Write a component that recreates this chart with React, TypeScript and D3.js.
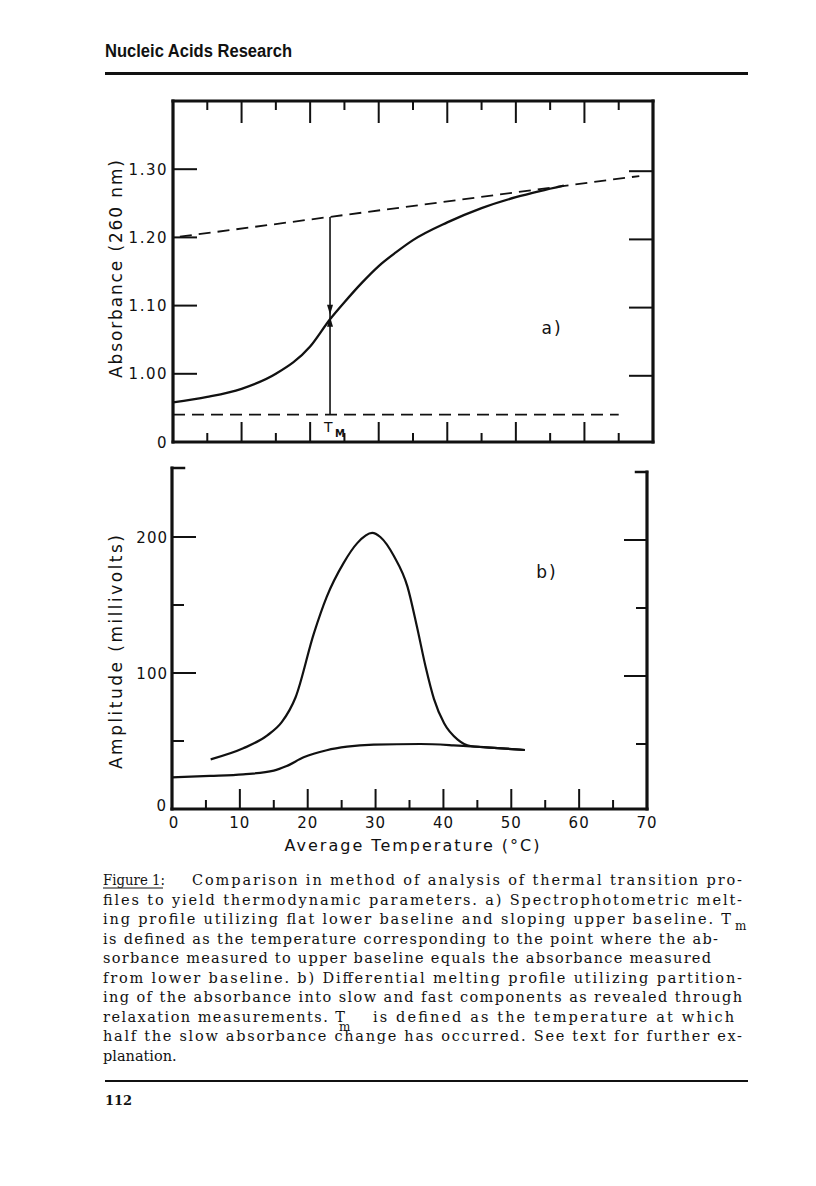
import React from "react";
import * as d3 from "d3";

// ---------- Data ----------
// Panel a: absorbance melting profile
const tempA = [0, 5, 10, 15, 20, 22.9, 25, 27.5, 30, 32.5, 35, 40, 45, 50, 53.5, 57];
const absA = [0.958, 0.966, 0.978, 1.0, 1.04, 1.08, 1.105, 1.133, 1.158, 1.178, 1.196, 1.222, 1.243, 1.259, 1.268, 1.276];
const upperBaseT = [1, 68];
const upperBaseV = [1.201, 1.29];
const lowerBaseT = [0, 65];
const lowerBaseV = [0.94, 0.94];
const tmValue = 22.9;
const absTicks = [1.0, 1.1, 1.2, 1.3];
const absTickLabels = ["1.00", "1.10", "1.20", "1.30"];

// Panel b: differential melting profile
const fastT = [5.7, 10.5, 14, 16.2, 18.2, 20.9, 22.8, 25.3, 27.3, 29.5, 30.7, 32.7, 34.7, 36.1, 37.4, 38.6, 40.1, 42.1, 44, 48, 52];
const fastV = [36.5, 44.6, 54, 64, 82, 129, 156, 181, 195.5, 203, 200, 186, 163.5, 134, 104, 81, 63, 51, 46.3, 44.8, 43.4];
const slowT = [0, 5.6, 10.5, 15, 16.9, 19.4, 22.8, 25.8, 29.7, 36.6, 41.5, 44, 48, 52];
const slowV = [23.3, 24.3, 25.5, 28.2, 31.6, 38, 43.2, 45.8, 47.3, 47.8, 46.8, 46, 44.8, 43.4];
const ampMajor = [100, 200];
const ampMinor = [50, 150];

const xMajor = [10, 20, 30, 40, 50, 60];
const xMinor = [5, 15, 25, 35, 45, 55, 65];
const xLabels = [0, 10, 20, 30, 40, 50, 60, 70];

const captionLines = [
  "Comparison in method of analysis of thermal transition pro-",
  "files to yield thermodynamic parameters.  a)  Spectrophotometric melt-",
  "ing profile utilizing flat lower baseline and sloping upper baseline.  T",
  "is defined as the temperature corresponding to the point where the ab-",
  "sorbance measured to upper baseline equals the absorbance measured",
  "from lower baseline.  b)  Differential melting profile utilizing partition-",
  "ing of the absorbance into slow and fast components as revealed through",
  "relaxation measurements.  T",
  "half the slow absorbance change has occurred.  See text for further ex-",
  "planation.",
];
const captionLine8b = "is defined as the temperature at which";

const SANS = "'DejaVu Sans', sans-serif";
const SERIF = "'DejaVu Serif', serif";

export default function App() {
  const W = 816, H = 1186;
  const xa = d3.scaleLinear().domain([0, 70]).range([173, 653]);
  const ya = d3.scaleLinear().domain([0.9, 1.4]).range([442, 101]);
  const xb = d3.scaleLinear().domain([0, 70]).range([172, 647]);
  const yb = d3.scaleLinear().domain([0, 250]).range([809, 469]);

  const lineA = d3.line<number>().x((_, i) => xa(tempA[i])).y((d) => ya(d)).curve(d3.curveMonotoneX);
  const upperLine = d3.line<number>().x((_, i) => xa(upperBaseT[i])).y((d) => ya(d));
  const lowerLine = d3.line<number>().x((_, i) => xa(lowerBaseT[i])).y((d) => ya(d));
  const fastLine = d3.line<number>().x((_, i) => xb(fastT[i])).y((d) => yb(d)).curve(d3.curveMonotoneX);
  const slowLine = d3.line<number>().x((_, i) => xb(slowT[i])).y((d) => yb(d)).curve(d3.curveMonotoneX);

  const upperAtTm = upperBaseV[0] + (upperBaseV[1] - upperBaseV[0]) * (tmValue - upperBaseT[0]) / (upperBaseT[1] - upperBaseT[0]);
  const lowerAtTm = lowerBaseV[0];
  const midTm = (upperAtTm + lowerAtTm) / 2;
  const tmX = xa(tmValue);
  const tmMidY = ya(midTm);

  const a0 = xa(0), a1 = xa(70), aTop = ya(1.4), aBot = ya(0.9);
  const b0 = xb(0), b1 = xb(70), bTop = 468, bBot = yb(0);

  const capY = (i: number) => 885 + i * 19.5;

  return (
    <svg width={W} height={H} style={{ position: "absolute", left: 0, top: 0, background: "#fff" }}>
      <rect x={0} y={0} width={W} height={H} fill="#fff" />
      {/* Header */}
      <text x={105} y={57} fontFamily="'Liberation Sans', Arial, sans-serif" fontWeight="bold" fontSize={18} textLength={187} lengthAdjust="spacingAndGlyphs" fill="#111">Nucleic Acids Research</text>
      <line x1={105} x2={748} y1={73.5} y2={73.5} stroke="#111" strokeWidth={3} />

      {/* ---------- Panel a ---------- */}
      <g stroke="#111" fill="none" strokeLinecap="square">
        <line x1={a0} x2={a0} y1={aTop} y2={aBot} strokeWidth={3.2} />
        <line x1={a0} x2={a1} y1={aTop} y2={aTop} strokeWidth={3.2} />
        <line x1={a1} x2={a1} y1={aTop} y2={aBot} strokeWidth={3.2} />
        <line x1={a0} x2={a1} y1={aBot} y2={aBot} strokeWidth={3} />
      </g>
      <g stroke="#111" strokeWidth={2}>
        {xMajor.map((t) => (
          <g key={"am" + t}>
            <line x1={xa(t)} x2={xa(t)} y1={aTop} y2={aTop + 22} />
            <line x1={xa(t)} x2={xa(t)} y1={aBot} y2={aBot - 20} />
          </g>
        ))}
        {xMinor.map((t) => (
          <g key={"an" + t}>
            <line x1={xa(t)} x2={xa(t)} y1={aTop} y2={aTop + 9} />
            <line x1={xa(t)} x2={xa(t)} y1={aBot} y2={aBot - 9} />
          </g>
        ))}
        {absTicks.map((v) => (
          <g key={"ay" + v}>
            <line x1={a0} x2={a0 + 24} y1={ya(v)} y2={ya(v)} />
            <line x1={a1} x2={a1 - 24} y1={ya(v) + 2} y2={ya(v) + 2} />
          </g>
        ))}
      </g>
      <g fontFamily={SANS} fontSize={15} fill="#111" textAnchor="end" letterSpacing={1.5}>
        {absTicks.map((v, i) => (
          <text key={"al" + v} x={168} y={ya(v) + 5.5}>{absTickLabels[i]}</text>
        ))}
        <text x={168} y={aBot + 5.5}>0</text>
      </g>
      <text transform={`translate(122,269) rotate(-90)`} textAnchor="middle" fontFamily={SANS} fontSize={17} fill="#111" textLength={218} lengthAdjust="spacing">Absorbance (260 nm)</text>
      {/* baselines */}
      <path d={upperLine(upperBaseV) || ""} fill="none" stroke="#111" strokeWidth={1.8} strokeDasharray="12,7" />
      <path d={lowerLine(lowerBaseV) || ""} fill="none" stroke="#111" strokeWidth={1.8} strokeDasharray="12,7" />
      {/* melting curve */}
      <path d={lineA(absA) || ""} fill="none" stroke="#111" strokeWidth={2.3} />
      {/* Tm arrow */}
      <line x1={tmX} x2={tmX} y1={ya(upperAtTm)} y2={ya(lowerAtTm)} stroke="#111" strokeWidth={1.6} />
      <path d={`M${tmX - 3},${tmMidY - 11} L${tmX + 3},${tmMidY - 11} L${tmX},${tmMidY - 1} Z`} fill="#111" />
      <path d={`M${tmX - 3},${tmMidY + 11} L${tmX + 3},${tmMidY + 11} L${tmX},${tmMidY + 1} Z`} fill="#111" />
      <text x={tmX - 6} y={432} fontFamily={SANS} fontSize={14} fill="#111">T</text>
      <text x={tmX + 5} y={437} fontFamily={SANS} fontSize={10} fontWeight="bold" fill="#111">M</text>
      <text x={552} y={334} textAnchor="middle" fontFamily={SANS} fontSize={17} fill="#111" letterSpacing={2}>a)</text>

      {/* ---------- Panel b ---------- */}
      <g stroke="#111" fill="none" strokeLinecap="square">
        <line x1={b0} x2={b0} y1={bTop} y2={bBot} strokeWidth={3.2} />
        <line x1={b0} x2={b0 + 12} y1={bTop} y2={bTop} strokeWidth={2.5} />
        <line x1={b1} x2={b1} y1={bTop + 4} y2={bBot} strokeWidth={3.2} />
        <line x1={b1 - 11} x2={b1} y1={bTop + 4} y2={bTop + 4} strokeWidth={2.5} />
        <line x1={b0} x2={b1} y1={bBot} y2={bBot} strokeWidth={3.2} />
      </g>
      <g stroke="#111" strokeWidth={2}>
        {xMajor.map((t) => (
          <line key={"bm" + t} x1={xb(t)} x2={xb(t)} y1={bBot} y2={bBot - 20} />
        ))}
        {xMinor.map((t) => (
          <line key={"bn" + t} x1={xb(t)} x2={xb(t)} y1={bBot} y2={bBot - 9} />
        ))}
        {ampMajor.map((v) => (
          <g key={"bym" + v}>
            <line x1={b0} x2={b0 + 24} y1={yb(v)} y2={yb(v)} />
            <line x1={b1} x2={b1 - 23} y1={yb(v) + 3} y2={yb(v) + 3} />
          </g>
        ))}
        {ampMinor.map((v) => (
          <g key={"byn" + v}>
            <line x1={b0} x2={b0 + 12} y1={yb(v)} y2={yb(v)} />
            <line x1={b1} x2={b1 - 11} y1={yb(v) + 3} y2={yb(v) + 3} />
          </g>
        ))}
      </g>
      <g fontFamily={SANS} fontSize={15} fill="#111" textAnchor="end" letterSpacing={1}>
        {ampMajor.map((v) => (
          <text key={"bl" + v} x={168} y={yb(v) + 5.5}>{v}</text>
        ))}
        <text x={167} y={bBot + 2}>0</text>
      </g>
      <text transform={`translate(122,652) rotate(-90)`} textAnchor="middle" fontFamily={SANS} fontSize={17} fill="#111" textLength={234} lengthAdjust="spacing">Amplitude (millivolts)</text>
      <path d={slowLine(slowV) || ""} fill="none" stroke="#111" strokeWidth={2.2} />
      <path d={fastLine(fastV) || ""} fill="none" stroke="#111" strokeWidth={2.2} />
      <text x={547} y={578} textAnchor="middle" fontFamily={SANS} fontSize={17} fill="#111" letterSpacing={2}>b)</text>

      <g fontFamily={SANS} fontSize={15} fill="#111" textAnchor="middle" letterSpacing={1}>
        {xLabels.map((t) => (
          <text key={"xl" + t} x={xb(t) + (t === 0 ? 2 : 0)} y={828}>{t}</text>
        ))}
      </g>
      <text x={412} y={851} textAnchor="middle" fontFamily={SANS} fontSize={16} fill="#111" textLength={255} lengthAdjust="spacing">Average Temperature (°C)</text>

      {/* ---------- Caption ---------- */}
      <g fontFamily={SERIF} fontSize={14.5} fill="#111">
        <text x={103} y={capY(0)} textLength={62} lengthAdjust="spacingAndGlyphs">Figure 1:</text>
        <line x1={103} x2={163} y1={capY(0) + 3} y2={capY(0) + 3} stroke="#111" strokeWidth={1} />
        <text x={192} y={capY(0)} textLength={550} lengthAdjust="spacing">{captionLines[0]}</text>
        <text x={103} y={capY(1)} textLength={639} lengthAdjust="spacing">{captionLines[1]}</text>
        <text x={103} y={capY(2)} textLength={628} lengthAdjust="spacing">{captionLines[2]}</text>
        <text x={735} y={capY(2) + 6} fontSize={12}>m</text>
        <text x={103} y={capY(3)} textLength={615} lengthAdjust="spacing">{captionLines[3]}</text>
        <text x={103} y={capY(4)} textLength={608} lengthAdjust="spacing">{captionLines[4]}</text>
        <text x={103} y={capY(5)} textLength={639} lengthAdjust="spacing">{captionLines[5]}</text>
        <text x={103} y={capY(6)} textLength={639} lengthAdjust="spacing">{captionLines[6]}</text>
        <text x={103} y={capY(7)} textLength={242} lengthAdjust="spacing">{captionLines[7]}</text>
        <text x={339} y={capY(7) + 9} fontSize={12}>m</text>
        <text x={373} y={capY(7)} textLength={361} lengthAdjust="spacing">{captionLine8b}</text>
        <text x={103} y={capY(8)} textLength={639} lengthAdjust="spacing">{captionLines[8]}</text>
        <text x={103} y={capY(9)}>{captionLines[9]}</text>
      </g>

      {/* Footer */}
      <line x1={105} x2={748} y1={1081} y2={1081} stroke="#111" strokeWidth={2} />
      <text x={105} y={1105} fontFamily={SERIF} fontWeight="bold" fontSize={13} fill="#111">112</text>
    </svg>
  );
}
